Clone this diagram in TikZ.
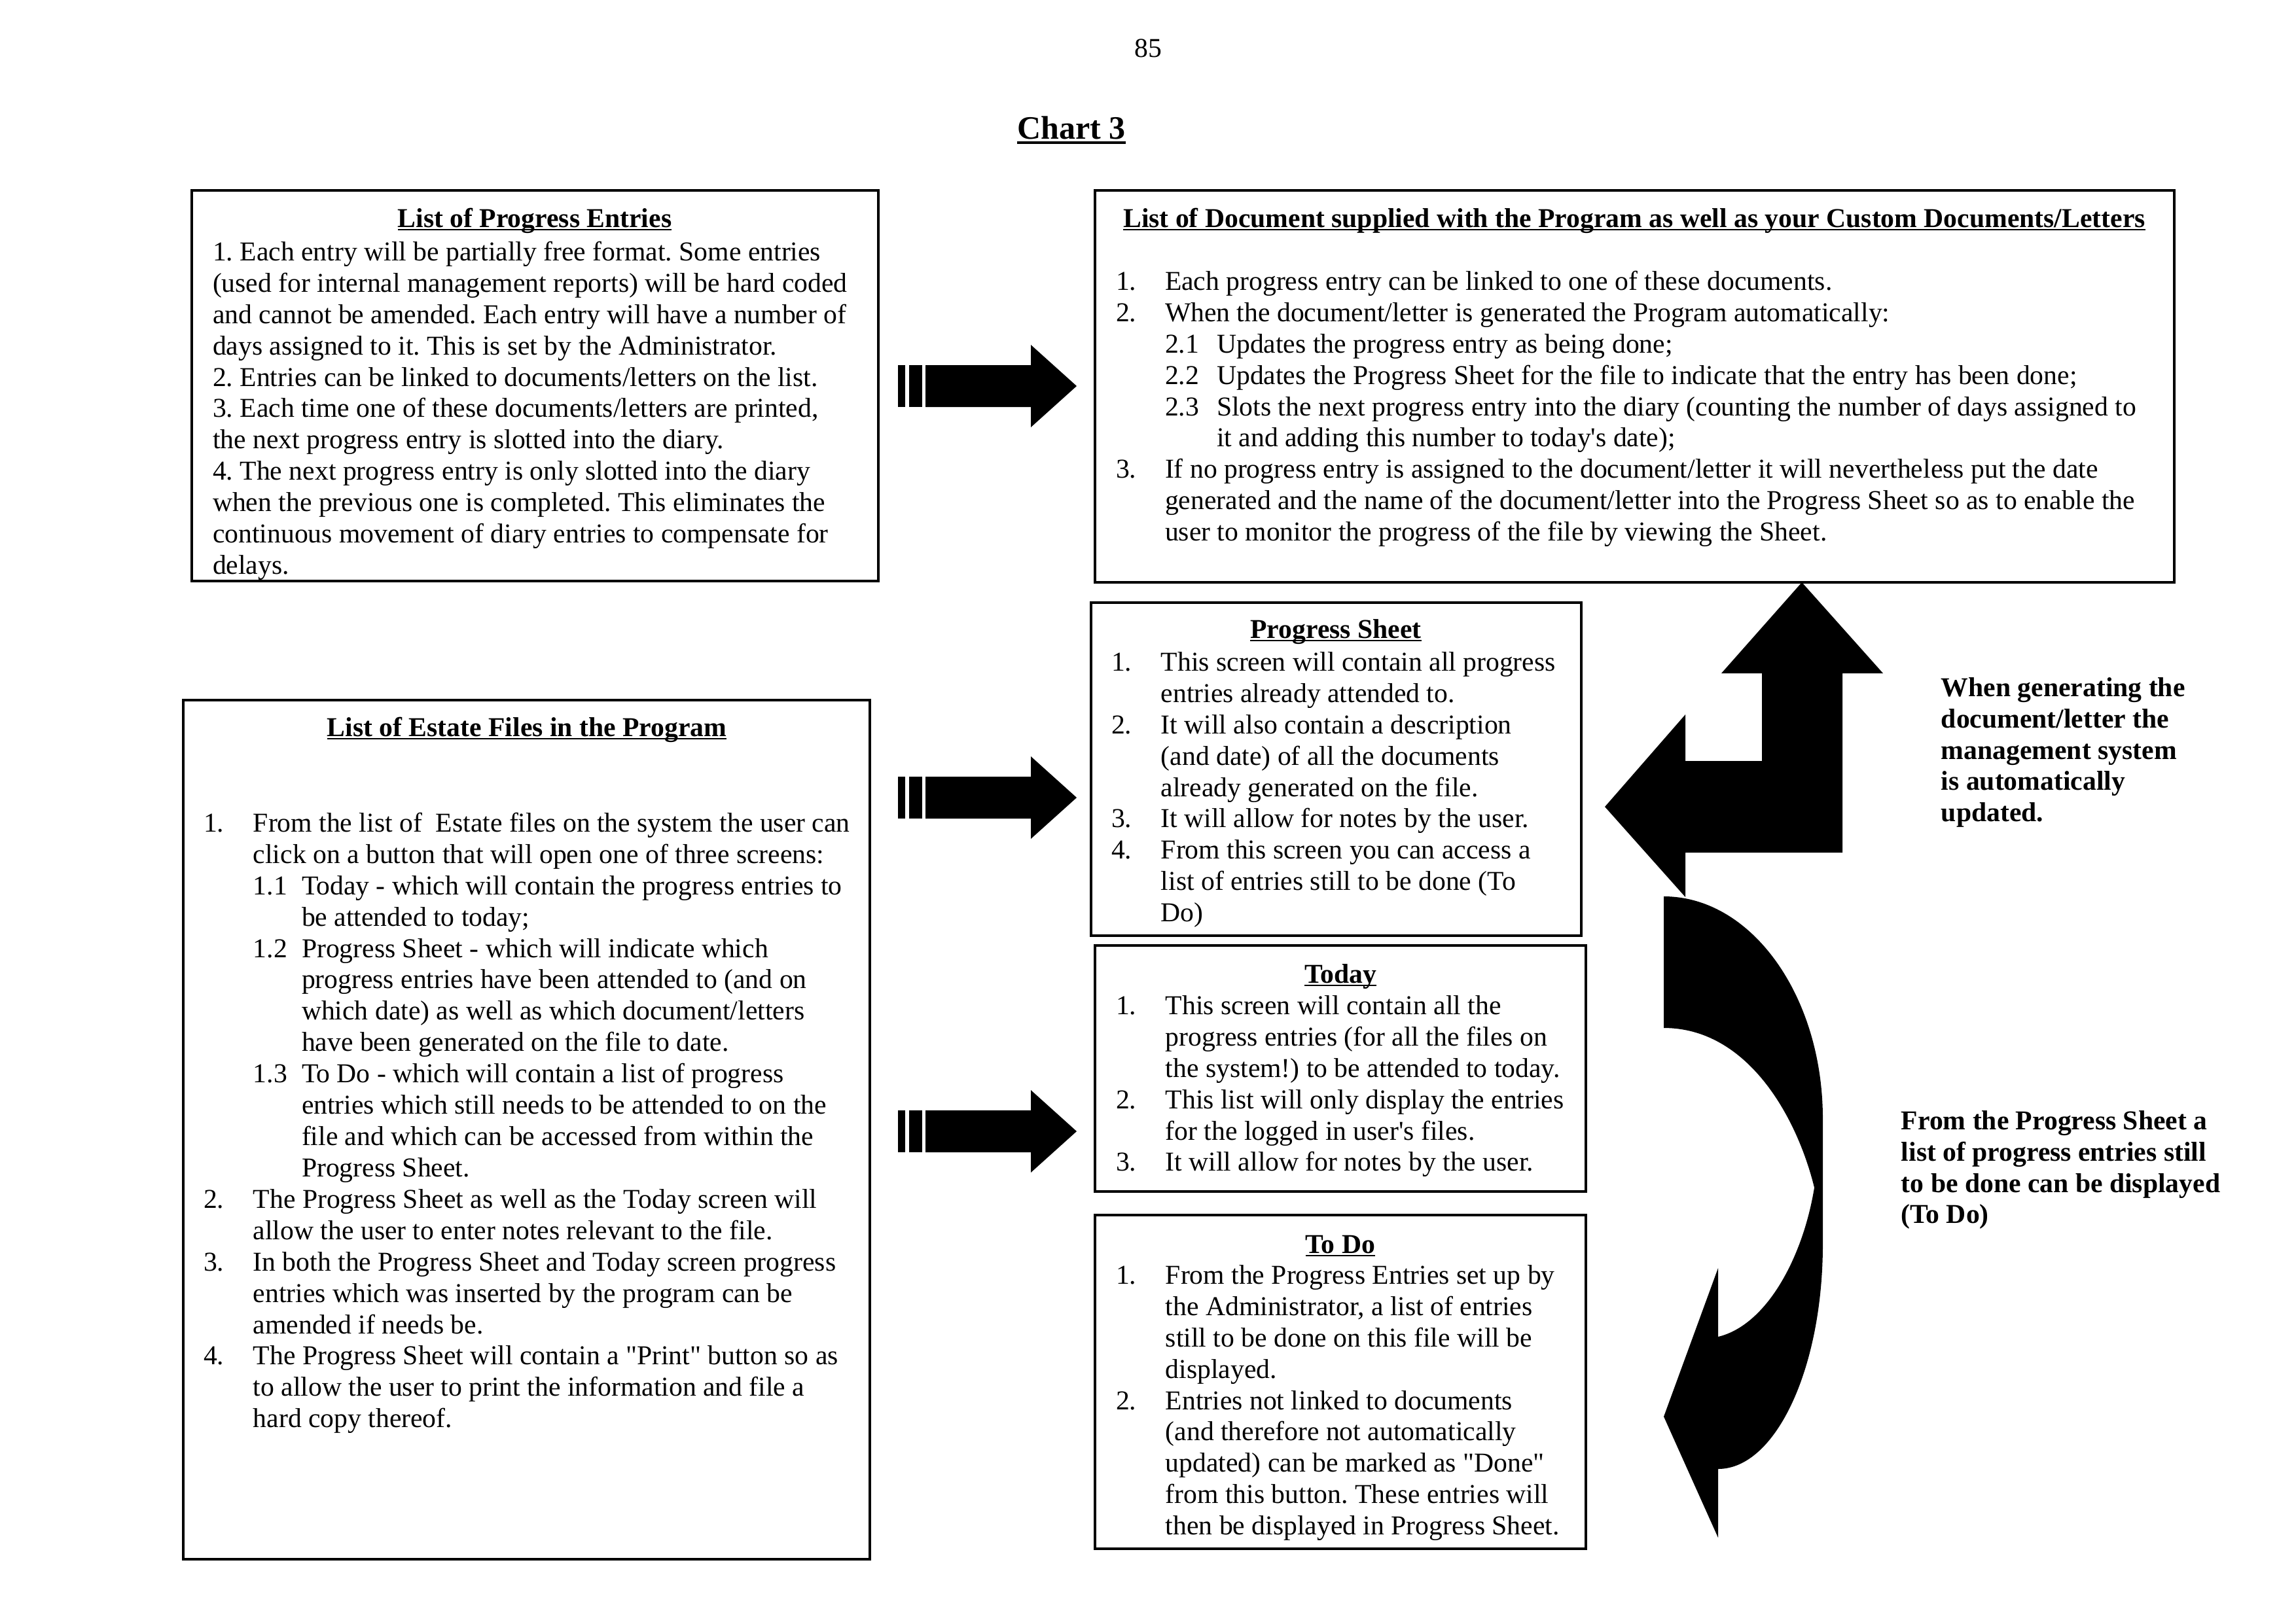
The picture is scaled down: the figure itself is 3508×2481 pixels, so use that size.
\documentclass[tikz,border=0pt]{standalone}
\usepackage{fontspec}
\setmainfont{Liberation Serif}[Ligatures=TeXOff]
\usetikzlibrary{fit}
\frenchspacing
\newcommand\nlab[2]{\makebox[#1][l]{#2}}
\newcommand\ulx[3]{\setbox0\hbox{#1}\rlap{\rule[-#2]{\wd0}{#3}}\box0}
\begin{document}
\begin{tikzpicture}[x=0.24pt,y=-0.24pt,
  box/.style={draw, line width=0.75pt, inner sep=0pt, outer sep=0pt},
  body/.style={anchor=north west, inner sep=0pt, outer sep=0pt, align=left, font=\fontsize{10}{11.5}\selectfont},
  ttl/.style={anchor=base, inner sep=0pt, font=\fontsize{10}{11.5}\selectfont\bfseries},
  note/.style={anchor=north west, inner sep=0pt, align=left, font=\fontsize{10}{11.5}\selectfont\bfseries},
  blk/.style={fill=black, draw=none}]
\useasboundingbox (0,0) rectangle (3508,2481);
\fill[white] (0,0) rectangle (3508,2481);

% header
\node[anchor=base, inner sep=0pt, font=\fontsize{10}{12}\selectfont] (pg) at (1754,87) {85};
\node[anchor=base, inner sep=0pt, font=\fontsize{12}{14}\selectfont\bfseries] (chart) at (1637,212) {\ulx{Chart 3}{2pt}{1pt}};

% boxes
\node[box, fit={(293,291) (1342,888)}] (pe) {};
\node[box, fit={(1673,291) (3322,890)}] (docs) {};
\node[box, fit={(280,1070) (1329,2383)}] (estate) {};
\node[box, fit={(1667,921) (2416,1430)}] (ps) {};
\node[box, fit={(1673,1445) (2423,1821)}] (today) {};
\node[box, fit={(1673,1857) (2423,2367)}] (todo) {};

% List of Progress Entries
\node[ttl] (peT) at (817,347) {\ulx{List of Progress Entries}{1.3pt}{0.6pt}};
\begin{scope}
\clip (293,291) rectangle (1342,886);
\node[body] (peB) at (325,365) {\rule{0pt}{8pt}1. Each entry will be partially free format. Some entries\\
(used for internal management reports) will be hard coded\\
and cannot be amended. Each entry will have a number of\\
days assigned to it. This is set by the Administrator.\\
2. Entries can be linked to documents/letters on the list.\\
3. Each time one of these documents/letters are printed,\\
the next progress entry is slotted into the diary.\\
4. The next progress entry is only slotted into the diary\\
when the previous one is completed. This eliminates the\\
continuous movement of diary entries to compensate for\\
delays.};
\end{scope}

% Documents
\node[ttl] (docsT) at (2497,347) {\ulx{List of Document supplied with the Program as well as your Custom Documents/Letters}{1.3pt}{0.6pt}};
\node[body] (docsB) at (1705,410) {\rule{0pt}{8pt}\nlab{18pt}{1.}Each progress entry can be linked to one of these documents.\\
\nlab{18pt}{2.}When the document/letter is generated the Program automatically:\\
\hspace*{18pt}\nlab{19pt}{2.1}Updates the progress entry as being done;\\
\hspace*{18pt}\nlab{19pt}{2.2}Updates the Progress Sheet for the file to indicate that the entry has been done;\\
\hspace*{18pt}\nlab{19pt}{2.3}Slots the next progress entry into the diary (counting the number of days assigned to\\
\hspace*{37pt}it and adding this number to today's date);\\
\nlab{18pt}{3.}If no progress entry is assigned to the document/letter it will nevertheless put the date\\
\hspace*{18pt}generated and the name of the document/letter into the Progress Sheet so as to enable the\\
\hspace*{18pt}user to monitor the progress of the file by viewing the Sheet.};

% Estate files
\node[ttl] (estT) at (805,1125) {\ulx{List of Estate Files in the Program}{1.3pt}{0.6pt}};
\node[body] (estB) at (311,1238) {\rule{0pt}{8pt}\nlab{18.2pt}{1.}From the list of\ \ Estate files on the system the user can\\
\hspace*{18.2pt}click on a button that will open one of three screens:\\
\hspace*{18.2pt}\nlab{17.8pt}{1.1}Today - which will contain the progress entries to\\
\hspace*{36pt}be attended to today;\\
\hspace*{18.2pt}\nlab{17.8pt}{1.2}Progress Sheet - which will indicate which\\
\hspace*{36pt}progress entries have been attended to (and on\\
\hspace*{36pt}which date) as well as which document/letters\\
\hspace*{36pt}have been generated on the file to date.\\
\hspace*{18.2pt}\nlab{17.8pt}{1.3}To Do - which will contain a list of progress\\
\hspace*{36pt}entries which still needs to be attended to on the\\
\hspace*{36pt}file and which can be accessed from within the\\
\hspace*{36pt}Progress Sheet.\\
\nlab{18.2pt}{2.}The Progress Sheet as well as the Today screen will\\
\hspace*{18.2pt}allow the user to enter notes relevant to the file.\\
\nlab{18.2pt}{3.}In both the Progress Sheet and Today screen progress\\
\hspace*{18.2pt}entries which was inserted by the program can be\\
\hspace*{18.2pt}amended if needs be.\\
\nlab{18.2pt}{4.}The Progress Sheet will contain a "Print" button so as\\
\hspace*{18.2pt}to allow the user to print the information and file a\\
\hspace*{18.2pt}hard copy thereof.};

% Progress Sheet
\node[ttl] (psT) at (2041,975) {\ulx{Progress Sheet}{1.3pt}{0.6pt}};
\node[body] (psB) at (1698,992) {\rule{0pt}{8pt}\nlab{18.2pt}{1.}This screen will contain all progress\\
\hspace*{18.2pt}entries already attended to.\\
\nlab{18.2pt}{2.}It will also contain a description\\
\hspace*{18.2pt}(and date) of all the documents\\
\hspace*{18.2pt}already generated on the file.\\
\nlab{18.2pt}{3.}It will allow for notes by the user.\\
\nlab{18.2pt}{4.}From this screen you can access a\\
\hspace*{18.2pt}list of entries still to be done (To\\
\hspace*{18.2pt}Do)};

% Today
\node[ttl] (tdT) at (2048,1502) {\ulx{Today}{1.3pt}{0.6pt}};
\node[body] (tdB) at (1705,1517) {\rule{0pt}{8pt}\nlab{18.2pt}{1.}This screen will contain all the\\
\hspace*{18.2pt}progress entries (for all the files on\\
\hspace*{18.2pt}the system!) to be attended to today.\\
\nlab{18.2pt}{2.}This list will only display the entries\\
\hspace*{18.2pt}for the logged in user's files.\\
\nlab{18.2pt}{3.}It will allow for notes by the user.};

% To Do
\node[ttl] (toT) at (2048,1915) {\ulx{To Do}{1.3pt}{0.6pt}};
\node[body] (toB) at (1705,1929) {\rule{0pt}{8pt}\nlab{18.2pt}{1.}From the Progress Entries set up by\\
\hspace*{18.2pt}the Administrator, a list of entries\\
\hspace*{18.2pt}still to be done on this file will be\\
\hspace*{18.2pt}displayed.\\
\nlab{18.2pt}{2.}Entries not linked to documents\\
\hspace*{18.2pt}(and therefore not automatically\\
\hspace*{18.2pt}updated) can be marked as "Done"\\
\hspace*{18.2pt}from this button. These entries will\\
\hspace*{18.2pt}then be displayed in Progress Sheet.};

% notes on the right
\node[note] (n1) at (2965,1030) {\rule{0pt}{8pt}When generating the\\document/letter the\\management system\\is automatically\\updated.};
\node[note] (n2) at (2904,1692) {\rule{0pt}{8pt}From the Progress Sheet a\\list of progress entries still\\to be done can be displayed\\(To Do)};

% striped block arrows
\foreach \cy in {590,1219,1729}{
  \fill[blk] (1372,\cy-32) rectangle (1383,\cy+32);
  \fill[blk] (1389,\cy-32) rectangle (1409,\cy+32);
  \fill[blk] (1414,\cy-32) -- (1575,\cy-32) -- (1575,\cy-63) -- (1645,\cy)
     -- (1575,\cy+63) -- (1575,\cy+32) -- (1414,\cy+32) -- cycle;
}

% bent (up / left) arrow
\fill[blk] (2753,890) -- (2877,1029) -- (2815,1029) -- (2815,1303) -- (2575,1303)
  -- (2575,1371) -- (2452,1233) -- (2575,1092) -- (2575,1163) -- (2692,1163)
  -- (2692,1029) -- (2630,1029) -- cycle;

% curved (U-turn) arrow
\fill[blk] (2542,1370) .. controls (2676,1370) and (2785,1522) .. (2785,1710)
  -- (2785,1901) .. controls (2785,2091) and (2713,2245) .. (2625,2245)
  -- (2625,2350) -- (2542,2165) -- (2625,1938) -- (2625,2043)
  .. controls (2700,2025) and (2755,1920) .. (2772,1815)
  .. controls (2745,1705) and (2669,1571) .. (2542,1571) -- cycle;
\end{tikzpicture}
\end{document}
